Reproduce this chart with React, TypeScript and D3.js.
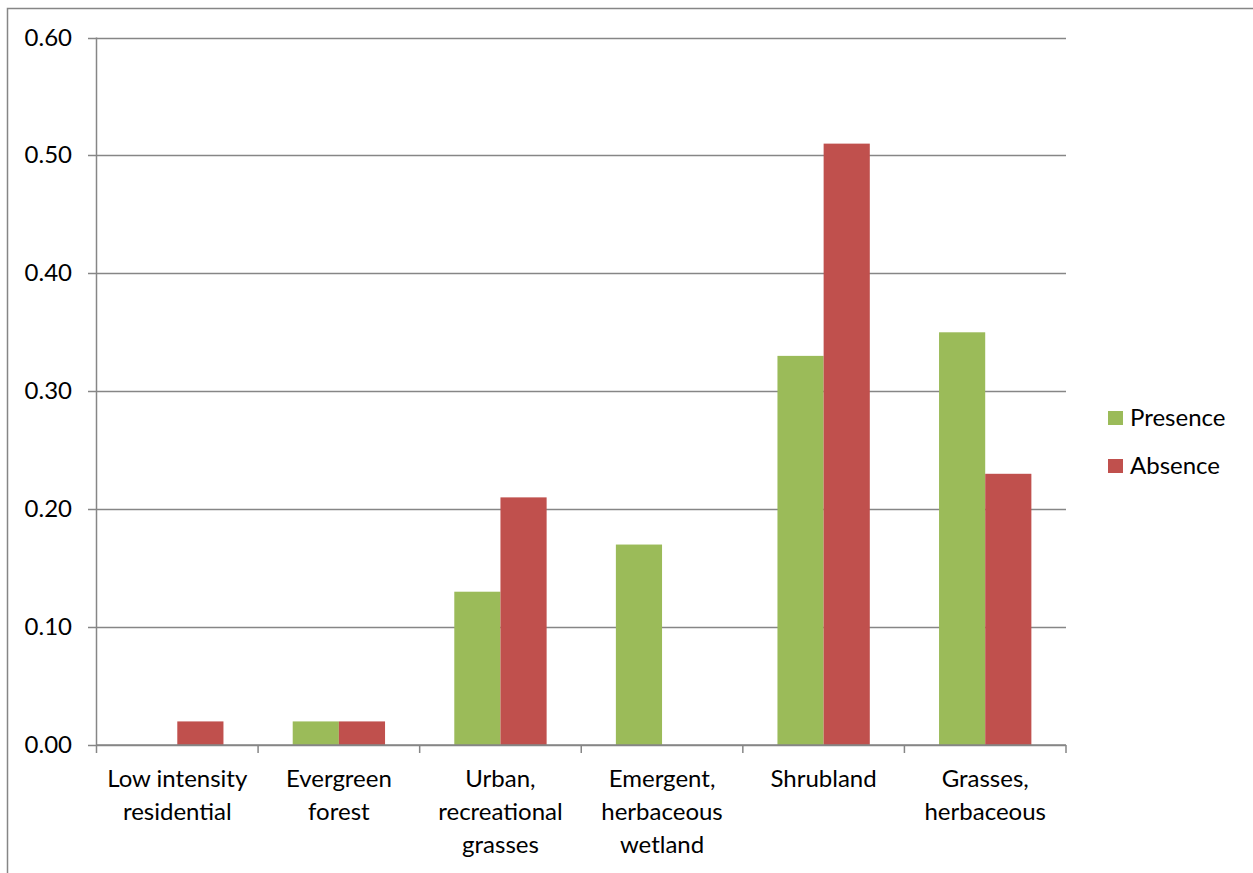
import React from "react";
import * as d3 from "d3";

const categories: string[][] = [
  ["Low intensity", "residential"],
  ["Evergreen", "forest"],
  ["Urban,", "recreational", "grasses"],
  ["Emergent,", "herbaceous", "wetland"],
  ["Shrubland"],
  ["Grasses,", "herbaceous"],
];
const presence = [0, 0.02, 0.13, 0.17, 0.33, 0.35];
const absence = [0.02, 0.02, 0.21, 0, 0.51, 0.23];
const yTicks = [0, 0.1, 0.2, 0.3, 0.4, 0.5, 0.6];
const seriesNames = ["Presence", "Absence"];
const colors = ["#9BBB59", "#C0504D"];

const W = 1253;
const H = 873;
const left = 96.5;
const right = 1066;
const top = 37.5;
const bottom = 745;
const font = "Lato, 'Open Sans', sans-serif";
const fs = 24;

export default function App() {
  const x = d3.scaleBand<number>().domain(d3.range(categories.length)).range([left, right]);
  const inner = d3.scaleBand<number>().domain([0, 1]).range([0, x.bandwidth()]).paddingInner(0).paddingOuter(0.75);
  const y = d3.scaleLinear().domain([0, 0.6]).range([bottom, top]);
  const series = [presence, absence];
  const grid = "#868686";
  return (
    <svg width={W} height={H} style={{ position: "absolute", left: 0, top: 0 }}>
      <rect x={0} y={0} width={W} height={H} fill="#fff" />
      <path d={`M7.5,${H} V8.5 H${W}`} fill="none" stroke={grid} strokeWidth={1.5} />
      {yTicks.map((t) => (
        <g key={t}>
          <line x1={88} x2={right} y1={Math.round(y(t)) + 0.5} y2={Math.round(y(t)) + 0.5} stroke={grid} strokeWidth={1.4} />
          <text x={72} y={y(t) + 8} textAnchor="end" fontFamily={font} fontSize={fs} fill="#000">
            {d3.format(".2f")(t)}
          </text>
        </g>
      ))}
      {series.map((vals, s) =>
        vals.map((v, i) =>
          v > 0 ? (
            <rect
              key={`${s}-${i}`}
              x={(x(i) as number) + (inner(s) as number)}
              y={y(v)}
              width={inner.bandwidth()}
              height={bottom - y(v)}
              fill={colors[s]}
            />
          ) : null
        )
      )}
      <line x1={left} x2={left} y1={top} y2={bottom} stroke={grid} strokeWidth={1.5} />
      <line x1={left} x2={right} y1={bottom} y2={bottom} stroke={grid} strokeWidth={1.5} />
      {d3.range(categories.length + 1).map((i) => {
        const xx = left + i * x.bandwidth();
        return <line key={i} x1={xx} x2={xx} y1={bottom} y2={753} stroke={grid} strokeWidth={1.5} />;
      })}
      {categories.map((lines, i) => (
        <text key={i} textAnchor="middle" fontFamily={font} fontSize={fs} fill="#000">
          {lines.map((l, j) => (
            <tspan key={j} x={(x(i) as number) + x.bandwidth() / 2} y={787 + j * 33}>
              {l}
            </tspan>
          ))}
        </text>
      ))}
      {seriesNames.map((n, s) => (
        <g key={n}>
          <rect x={1108} y={411 + s * 48} width={15} height={14} fill={colors[s]} />
          <text x={1130} y={426 + s * 48} fontFamily={font} fontSize={fs} fill="#000">
            {n}
          </text>
        </g>
      ))}
    </svg>
  );
}
